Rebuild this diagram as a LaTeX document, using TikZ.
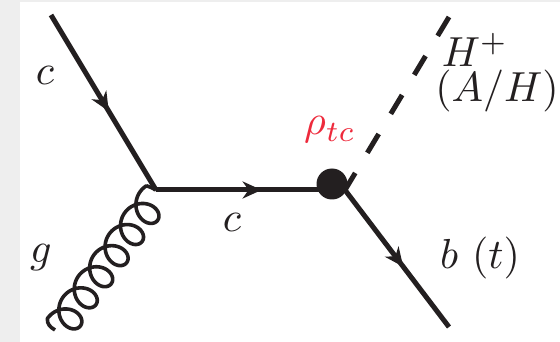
\documentclass[tikz,border=0pt]{standalone}
\usetikzlibrary{arrows.meta,decorations.markings}
\definecolor{pagegray}{HTML}{EEEEEE}
\definecolor{inkk}{HTML}{231F20}
\definecolor{rhored}{HTML}{EE2A3C}
\tikzset{
  fermion/.style={draw=inkk,line width=5pt,line cap=butt},
  arrowed/.style={fermion,postaction={decorate},decoration={markings,
    mark=at position #1 with {\arrow[inkk]{Stealth[length=19pt,width=17pt,inset=6pt]}}}},
  scalar/.style={draw=inkk,line width=5pt,dash pattern=on 22pt off 23.5pt},
  gluon/.style={draw=inkk,line width=3.6pt,line join=round},
  blob/.style={circle,fill=inkk,minimum size=31pt,inner sep=0pt},
  lab/.style={text=inkk,inner sep=0pt,scale=4.2},
}
\begin{document}
\begin{tikzpicture}[x=1pt,y=-1pt]
\useasboundingbox (0,0) rectangle (560,342);
\fill[pagegray] (0,0) rectangle (560,342);
\fill[white] (20,2) rectangle (560,342);
\coordinate (cin) at (51,15);
\coordinate (v) at (156,190);
\coordinate (w) at (332,190);
\coordinate (wb) at (345,190);
\coordinate (hend) at (449,17);
\coordinate (bend) at (449,327);
\coordinate (gend) at (55,330);
\path[arrowed=0.55] (cin) -- (v);
\path[arrowed=0.6] (v) -- (w);
\path[arrowed=0.56] (wb) -- (bend);
\path[scalar] (hend) -- (wb);
\node[blob] (b) at (332,184) {};
\draw[gluon] (v) .. controls (153,188) and (150,187) .. (146.5,185.8)
  -- plot[domain=-3.6:34.6,samples=500]
  ({155 + (-0.59)*(23+4.16*\x-14.5*sin(\x r)) + 0.807*(4.5+15.5*cos(\x r))},
   {190 + 0.807*(23+4.16*\x-14.5*sin(\x r)) + 0.59*(4.5+15.5*cos(\x r))})
  .. controls (47,324) and (50,327) .. (gend);
\node[lab] (lc1) at (45,75) {$c$};
\node[lab] (lg) at (41,258) {$g$};
\node[lab] (lc2) at (232,222) {$c$};
\node[lab] (lb) at (480,258) {$b~(t)$};
\node[lab,text=rhored] (lr) at (330,130) {$\rho_{tc}$};
\node[lab] (lh) at (475,50) {$H^+$};
\node[lab] (la) at (497,91) {$(A/H)$};
\end{tikzpicture}
\end{document}
